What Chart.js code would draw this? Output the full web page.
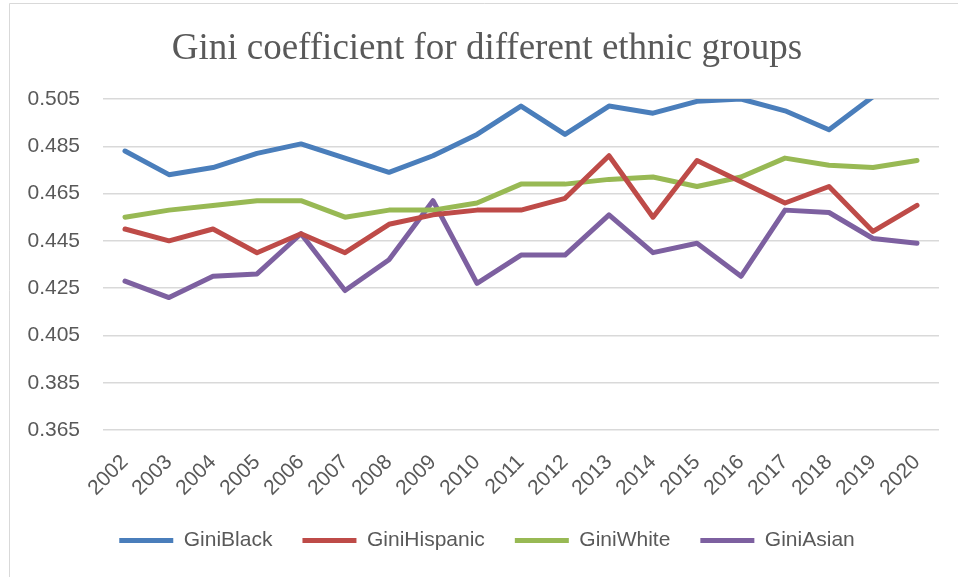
<!DOCTYPE html>
<html>
<head>
<meta charset="utf-8">
<script src="https://cdn.jsdelivr.net/npm/chart.js@4/dist/chart.umd.min.js"></script>
<style>
html,body{margin:0;padding:0;background:#fff;}
#wrap{width:958px;height:577px;position:relative;}
</style>
</head>
<body>
<div id="wrap"><canvas id="c" width="958" height="577"></canvas></div>
<script>
const years = ["2002","2003","2004","2005","2006","2007","2008","2009","2010","2011","2012","2013","2014","2015","2016","2017","2018","2019","2020"];
const giniBlack    = [0.483,0.473,0.476,0.482,0.486,0.480,0.474,0.481,0.490,0.502,0.490,0.502,0.499,0.504,0.505,0.500,0.492,0.506,0.512];
const giniHispanic = [0.450,0.445,0.450,0.440,0.448,0.440,0.452,0.456,0.458,0.458,0.463,0.481,0.455,0.479,0.470,0.461,0.468,0.449,0.460];
const giniWhite    = [0.455,0.458,0.460,0.462,0.462,0.455,0.458,0.458,0.461,0.469,0.469,0.471,0.472,0.468,0.472,0.480,0.477,0.476,0.479];
const giniAsian    = [0.428,0.421,0.430,0.431,0.448,0.424,0.437,0.462,0.427,0.439,0.439,0.456,0.440,0.444,0.430,0.458,0.457,0.446,0.444];
const yTicks = [0.365,0.385,0.405,0.425,0.445,0.465,0.485,0.505];

const textColor = '#595959';
const gridColor = '#d9d9d9';
const labelFont = { family: '"Liberation Sans", Arial, sans-serif', size: 21 };

const borderPlugin = {
  id: 'outerBorder',
  beforeDraw(chart) {
    const ctx = chart.ctx;
    ctx.save();
    ctx.fillStyle = '#fff';
    ctx.fillRect(0, 0, chart.width, chart.height);
    ctx.strokeStyle = gridColor;
    ctx.lineWidth = 1;
    ctx.beginPath();
    ctx.moveTo(9.5, chart.height + 5);
    ctx.lineTo(9.5, 3.5);
    ctx.lineTo(chart.width + 5, 3.5);
    ctx.stroke();
    ctx.restore();
  }
};

function ds(label, data, color) {
  return {
    label, data,
    borderColor: color,
    backgroundColor: color,
    borderWidth: 5,
    pointRadius: 0,
    pointHoverRadius: 0,
    tension: 0,
    borderCapStyle: 'round',
    borderJoinStyle: 'round',
    yAxisID: 'y'
  };
}

new Chart(document.getElementById('c'), {
  type: 'line',
  data: {
    labels: years,
    datasets: [
      ds('GiniBlack', giniBlack, '#4a7ebb'),
      ds('GiniHispanic', giniHispanic, '#be4b48'),
      ds('GiniWhite', giniWhite, '#98b954'),
      ds('GiniAsian', giniAsian, '#7d60a0')
    ]
  },
  plugins: [borderPlugin],
  options: {
    responsive: false,
    animation: false,
    events: [],
    layout: { padding: { left: 16, right: 0, top: 14, bottom: 16 } },
    plugins: {
      title: {
        display: true,
        text: 'Gini coefficient for different ethnic groups',
        color: textColor,
        font: { family: '"Liberation Serif", "Times New Roman", serif', size: 37, weight: 'normal' },
        padding: { top: 13, bottom: 27.6 }
      },
      legend: {
        position: 'bottom',
        labels: {
          color: textColor,
          font: labelFont,
          usePointStyle: true,
          pointStyle: 'line',
          pointStyleWidth: 54,
          boxWidth: 54,
          boxHeight: 21,
          padding: 30
        }
      },
      tooltip: { enabled: false }
    },
    scales: {
      x: {
        type: 'category',
        offset: true,
        afterFit(scale) { scale.height = 70; },
        grid: { display: false, drawTicks: false },
        border: { display: false },
        ticks: {
          color: textColor,
          font: labelFont,
          minRotation: 45,
          maxRotation: 45,
          autoSkip: false,
          padding: 20
        }
      },
      y: {
        min: 0.365,
        max: 0.505,
        afterFit(scale) { scale.width = 87; },
        afterBuildTicks(scale) { scale.ticks = yTicks.map(v => ({ value: v })); },
        grid: { color: gridColor, lineWidth: 1.5, drawTicks: false },
        border: { display: false },
        ticks: {
          color: textColor,
          font: labelFont,
          padding: 23,
          callback: (v) => Number(v).toFixed(3)
        }
      },
      yRight: {
        position: 'right',
        min: 0,
        max: 1,
        afterFit(scale) { scale.width = 19; },
        grid: { display: false, drawTicks: false },
        border: { display: false },
        ticks: { display: false }
      }
    }
  }
});
</script>
</body>
</html>
